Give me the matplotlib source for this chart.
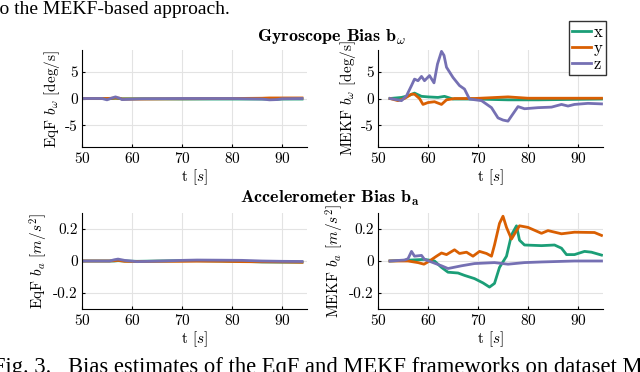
import matplotlib
matplotlib.use("Agg")
import matplotlib.pyplot as plt

plt.rcParams['font.family'] = 'serif'
plt.rcParams['font.serif'] = ['cmr10']
plt.rcParams['mathtext.fontset'] = 'cm'
plt.rcParams['axes.formatter.use_mathtext'] = True

# colours for the three axes
col_x = '#1b9e77'
col_y = '#d95f02'
col_z = '#7570b3'

# ---- EqF gyroscope bias [deg/s]
eqf_g_t = [50, 54, 55, 56, 56.7, 57.5, 58, 62, 70, 80, 86, 87.5, 89, 90, 94]
eqf_g_x = [0, 0, -0.05, 0, 0.05, 0, -0.05, -0.05, -0.1, -0.1, -0.1, -0.1, -0.15, -0.1, -0.1]
eqf_g_y = [0, 0, 0, 0.05, 0.1, 0.05, -0.1, -0.1, -0.05, 0, 0.05, 0.1, 0.1, 0.1, 0.1]
eqf_g_z = [0, 0, -0.25, 0.1, 0.3, 0.05, -0.2, -0.05, 0, 0, -0.1, -0.25, -0.2, -0.05, 0]

# ---- MEKF gyroscope bias [deg/s]
mekf_g_zt = [52.4, 54.7, 55.7, 56.7, 57.3, 58, 58.7, 59.3, 60.3, 61.2, 61.9, 62.7, 63.2,
             63.7, 65, 66.3, 67.3, 68.3, 70.7, 72.7, 74, 75, 76, 76.7, 78, 79.3, 82,
             84.7, 86.7, 88, 89.3, 92, 94.7]
mekf_g_z = [0, -0.4, 0.5, 2.4, 3.6, 3.3, 4.1, 3.3, 4.25, 2.9, 6.4, 8.75, 8.0,
            5.8, 3.9, 2.4, 1.75, -0.1, -0.4, -1.7, -3.6, -4.0, -4.2, -3.25, -1.5, -1.9, -1.7,
            -1.6, -1.1, -1.4, -1.1, -0.9, -1.0]
mekf_g_yt = [52.4, 54, 55.3, 56.7, 57.3, 58.3, 59, 60, 61.3, 62.7, 63.7, 65.3, 69.3, 76, 80, 94.7]
mekf_g_y = [0, -0.4, 0, 0.8, 0.8, 0, -1.1, -0.75, -0.6, -1.1, -0.25, 0, 0, 0.3, 0.05, 0.05]
mekf_g_xt = [52.4, 54.7, 56, 57.3, 58.7, 60, 62, 63.3, 65, 69.3, 76, 82, 94.7]
mekf_g_x = [0, 0.2, 0.5, 1.0, 0.4, 0.3, 0.2, 0.4, -0.1, -0.1, -0.25, -0.25, -0.1]

# ---- EqF accelerometer bias [m/s^2]
eqf_a_t = [50, 55.5, 56.5, 57.2, 58.5, 61, 65, 70, 73, 78, 82, 86, 90, 94]
eqf_a_x = [0, 0, 0, 0.002, 0, -0.002, 0, 0.002, 0.002, 0, -0.002, -0.006, -0.007, -0.007]
eqf_a_y = [0, 0, 0.002, 0.004, -0.002, -0.003, -0.002, -0.002, -0.001, -0.002, -0.004, -0.005, -0.006, -0.008]
eqf_a_z = [0, 0, 0.008, 0.012, 0.004, -0.004, -0.001, 0.004, 0.006, 0.005, 0.004, 0, -0.002, -0.003]

# ---- MEKF accelerometer bias [m/s^2]
mekf_a_yt = [52.4, 56, 58, 59.2, 60.3, 61.7, 62.7, 63.7, 65.3, 66.3, 67.7, 69, 70.3, 71.7,
             72.7, 73.3, 74.3, 75, 75.7, 76.7, 77.7, 78.3, 80, 82.7, 84, 86.7, 89.3, 93.3, 94.7]
mekf_a_y = [0, 0, -0.01, -0.02, 0, 0.03, 0.05, 0.04, 0.07, 0.047, 0.055, 0.03, 0.06, 0.047,
            0.03, 0.1, 0.235, 0.28, 0.21, 0.137, 0.19, 0.22, 0.21, 0.173, 0.19, 0.17, 0.18, 0.178, 0.16]
mekf_a_xt = [52.4, 59.3, 61.3, 62.7, 64, 66, 67.3, 69.3, 71, 72.3, 73.3, 74.3, 75.7, 76.7,
             77.7, 78.3, 79.3, 82.7, 85.3, 86.7, 87.7, 89.3, 91.3, 92.7, 94.7]
mekf_a_x = [0, 0.01, 0, -0.04, -0.07, -0.075, -0.09, -0.11, -0.137, -0.163, -0.14, -0.04, 0.03, 0.163,
            0.22, 0.13, 0.1, 0.096, 0.1, 0.08, 0.04, 0.04, 0.06, 0.055, 0.037]
mekf_a_zt = [52.4, 55.3, 56, 56.7, 57.3, 58.7, 59.3, 61, 62.7, 64, 66.7, 69.3, 73.3, 76, 79.3,
             82.7, 89.3, 94.7]
mekf_a_z = [0, 0.006, 0.014, 0.06, 0.03, 0.035, 0.01, -0.01, -0.03, -0.047, -0.03, -0.016, -0.01,
            -0.02, -0.01, -0.006, 0, 0]

xticks = [50, 60, 70, 80, 90]

W, H = 640, 372
fig = plt.figure(figsize=(6.4, 3.72), dpi=100)


def px_axes(left, top, right, bottom):
    return fig.add_axes([left / W, 1 - bottom / H, (right - left) / W, (bottom - top) / H])


def style(ax, ylim, yticks, yticklabels, ylabel):
    ax.set_xlim(50, 95)
    ax.set_ylim(*ylim)
    ax.set_xticks(xticks)
    ax.set_yticks(yticks)
    ax.set_yticklabels(yticklabels)
    ax.grid(True, color='#e3e3e3', lw=0.8)
    ax.set_axisbelow(True)
    for s in ['top', 'right']:
        ax.spines[s].set_visible(False)
    ax.tick_params(direction='in', length=2, labelsize=11, pad=3)
    ax.set_xlabel('t [$s$]', fontsize=11, labelpad=1)
    ax.set_ylabel(ylabel, fontsize=11, labelpad=2)


ax1 = px_axes(82, 50, 307, 147)
ax1.plot(eqf_g_t, eqf_g_x, color=col_x, lw=2)
ax1.plot(eqf_g_t, eqf_g_y, color=col_y, lw=2)
ax1.plot(eqf_g_t, eqf_g_z, color=col_z, lw=2)
style(ax1, (-9, 9), [-5, 0, 5], ['-5', '0', '5'], r'EqF $b_\omega$ [deg/s]')

ax2 = px_axes(378, 50, 603, 147)
lx, = ax2.plot(mekf_g_xt, mekf_g_x, color=col_x, lw=2)
ly, = ax2.plot(mekf_g_yt, mekf_g_y, color=col_y, lw=2)
lz, = ax2.plot(mekf_g_zt, mekf_g_z, color=col_z, lw=2)
style(ax2, (-9, 9), [-5, 0, 5], ['-5', '0', '5'], r'MEKF $b_\omega$ [deg/s]')

ax3 = px_axes(82, 213, 307, 309)
ax3.plot(eqf_a_t, eqf_a_x, color=col_x, lw=2)
ax3.plot(eqf_a_t, eqf_a_y, color=col_y, lw=2)
ax3.plot(eqf_a_t, eqf_a_z, color=col_z, lw=2)
style(ax3, (-0.3, 0.3), [-0.2, 0, 0.2], ['-0.2', '0', '0.2'], r'EqF $b_a$ [$m/s^2$]')

ax4 = px_axes(378, 213, 603, 309)
ax4.plot(mekf_a_xt, mekf_a_x, color=col_x, lw=2)
ax4.plot(mekf_a_yt, mekf_a_y, color=col_y, lw=2)
ax4.plot(mekf_a_zt, mekf_a_z, color=col_z, lw=2)
style(ax4, (-0.3, 0.3), [-0.2, 0, 0.2], ['-0.2', '0', '0.2'], r'MEKF $b_a$ [$m/s^2$]')

fig.text(332 / W, 1 - 37 / H, r'Gyroscope Bias $\mathbf{b}_\omega$', fontsize=13,
         fontfamily='cmb10', ha='center', va='center')
fig.text(330 / W, 1 - 198 / H, r'Accelerometer Bias $\mathbf{b}_\mathbf{a}$', fontsize=13,
         fontfamily='cmb10', ha='center', va='center')

fig.legend([lx, ly, lz], ['x', 'y', 'z'], loc='upper right',
           bbox_to_anchor=(606 / W, 1 - 21 / H), borderaxespad=0, fontsize=12,
           handlelength=1.1, handletextpad=0.2, borderpad=0.2, labelspacing=0.05,
           fancybox=False, framealpha=1, edgecolor='#333333')

# surrounding paper text
fig.text(-6 / W, 1 - 10 / H, 'to the MEKF-based approach.', fontsize=14,
         fontfamily='Liberation Serif', ha='left', va='center')
fig.text(-7 / W, 1 - 357 / H, 'Fig. 3.   Bias estimates of the EqF and MEKF frameworks on dataset MAV',
         fontsize=16.3, fontfamily='Liberation Serif', ha='left', va='top')

fig.savefig('out.png', dpi=100)
